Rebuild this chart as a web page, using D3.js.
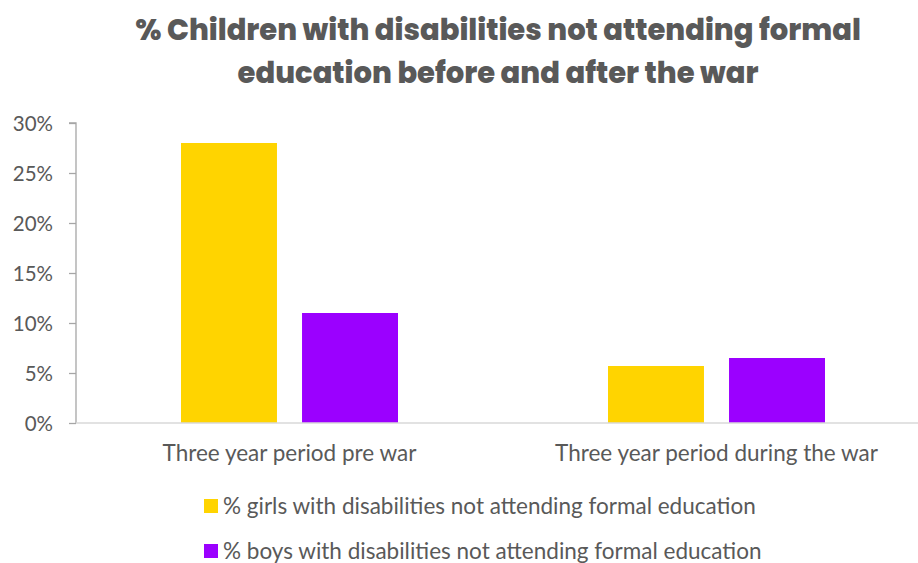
<!DOCTYPE html>
<html>
<head>
<meta charset="utf-8">
<script src="https://cdn.jsdelivr.net/npm/d3@7"></script>
<style>
  html, body { margin: 0; padding: 0; background: #ffffff; }
  svg { display: block; }
</style>
</head>
<body>
<svg id="chart" width="918" height="563"></svg>
<script>
// Chart data
const categories = ["Three year period pre war", "Three year period during the war"];
const seriesNames = [
  "% girls with disabilities not attending formal education",
  "% boys with disabilities not attending formal education"
];
const girlsValues = [0.28, 0.057];
const boysValues = [0.11, 0.065];
const yTicks = [0, 0.05, 0.10, 0.15, 0.20, 0.25, 0.30];
const titleLines = [
  "% Children with disabilities not attending formal",
  "education before and after the war"
];

const colors = ["#FFD400", "#9B00FF"];
const series = [girlsValues, boysValues];

const svg = d3.select("#chart");
const W = 918, H = 563;
const plot = { left: 76, right: 930, top: 123, bottom: 423 };

const labelFont = "Lato, 'Open Sans', sans-serif";
const textColor = "#595959";

// Title
svg.append("g")
  .selectAll("text")
  .data(titleLines)
  .join("text")
  .attr("x", 498)
  .attr("y", (d, i) => 40 + i * 43)
  .attr("text-anchor", "middle")
  .attr("font-family", "Poppins, Inter, 'Noto Sans', sans-serif")
  .attr("font-weight", 800)
  .attr("font-size", 29)
  .attr("fill", textColor)
  .text(d => d);

// Scales
const x0 = d3.scaleBand()
  .domain(categories)
  .range([plot.left, plot.right])
  .paddingInner(0)
  .paddingOuter(0);

const groupWidth = 217;
const x1 = d3.scaleBand()
  .domain(d3.range(series.length))
  .range([0, groupWidth])
  .paddingInner(0.207)
  .paddingOuter(0);

const y = d3.scaleLinear()
  .domain([0, 0.30])
  .range([plot.bottom, plot.top]);

// Y axis
const yAxis = d3.axisLeft(y)
  .tickValues(yTicks)
  .tickFormat(d3.format(".0%"))
  .tickSize(7)
  .tickPadding(16);

const yg = svg.append("g")
  .attr("transform", `translate(${plot.left},0)`)
  .call(yAxis);
yg.select(".domain").attr("stroke", "#a6a6a6").attr("stroke-width", 1.3)
  .attr("d", `M-7,${plot.top}H0V${plot.bottom}`);
yg.selectAll(".tick line").attr("stroke", "#a6a6a6").attr("stroke-width", 1.3);
yg.selectAll(".tick text")
  .attr("font-family", labelFont)
  .attr("font-size", 20.5)
  .attr("dy", "0.36em")
  .attr("fill", textColor);

// Bars
const groups = svg.append("g")
  .selectAll("g")
  .data(categories)
  .join("g")
  .attr("transform", d => `translate(${x0(d) + (x0.bandwidth() - groupWidth) / 2},0)`);

groups.selectAll("rect")
  .data((d, ci) => series.map((s, si) => ({ si, v: s[ci] })))
  .join("rect")
  .attr("x", d => x1(d.si))
  .attr("width", x1.bandwidth())
  .attr("y", d => y(d.v))
  .attr("height", d => y(0) - y(d.v))
  .attr("fill", d => colors[d.si]);

// Baseline
svg.append("line")
  .attr("x1", plot.left)
  .attr("x2", W)
  .attr("y1", y(0))
  .attr("y2", y(0))
  .attr("stroke", "#d9d9d9")
  .attr("stroke-width", 1.5);

// Category labels
svg.append("g")
  .selectAll("text")
  .data(categories)
  .join("text")
  .attr("x", d => x0(d) + x0.bandwidth() / 2)
  .attr("y", 461)
  .attr("text-anchor", "middle")
  .attr("font-family", labelFont)
  .attr("font-size", 22.5)
  .attr("fill", textColor)
  .text(d => d);

// Legend
const legend = svg.append("g")
  .selectAll("g")
  .data(seriesNames)
  .join("g")
  .attr("transform", (d, i) => `translate(204,${499 + i * 45})`);

legend.append("rect")
  .attr("width", 14)
  .attr("height", 14)
  .attr("fill", (d, i) => colors[i]);

legend.append("text")
  .attr("x", 19)
  .attr("y", 15)
  .attr("font-family", labelFont)
  .attr("font-size", 22.5)
  .attr("fill", textColor)
  .text(d => d);
</script>
</body>
</html>
